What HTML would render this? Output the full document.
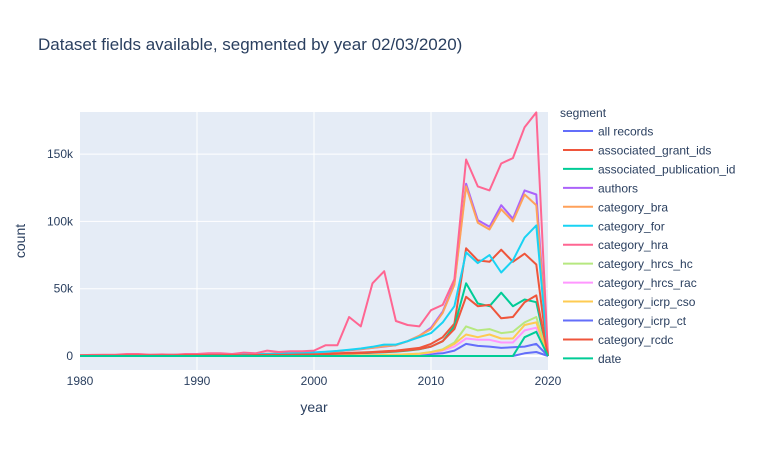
<!DOCTYPE html>
<html><head><meta charset="utf-8"><style>
body{margin:0;background:#fff;}
svg{display:block;font-family:"Liberation Sans",Arial,sans-serif;}
</style></head><body>
<svg id="chart" width="770" height="450" xmlns="http://www.w3.org/2000/svg">
<rect x="80" y="112" width="468" height="258" fill="#e5ecf6"/>
<g id="grid"></g><g id="lines"></g><g id="axes"></g><g id="legend"></g>
<text x="38" y="50" font-size="17" fill="#2a3f5f">Dataset fields available, segmented by year 02/03/2020)</text>
<text x="314" y="412" font-size="14" fill="#2a3f5f" text-anchor="middle">year</text>
<text x="25" y="241" font-size="14" fill="#2a3f5f" text-anchor="middle" transform="rotate(-90 25 241)">count</text>
<text x="560" y="117" font-size="12" fill="#2a3f5f">segment</text>
</svg>
<script>
const years = [1980,1981,1982,1983,1984,1985,1986,1987,1988,1989,1990,1991,1992,1993,1994,1995,1996,1997,1998,1999,2000,2001,2002,2003,2004,2005,2006,2007,2008,2009,2010,2011,2012,2013,2014,2015,2016,2017,2018,2019,2020];
const xTicks = [1980,1990,2000,2010,2020];
const yTicks = [0,50,100,150];
const yTickLabels = ["0","50k","100k","150k"];
const seriesNames = ["all records","associated_grant_ids","associated_publication_id","authors","category_bra","category_for","category_hra","category_hrcs_hc","category_hrcs_rac","category_icrp_cso","category_icrp_ct","category_rcdc","date"];
const seriesColors = ["#636efa","#EF553B","#00cc96","#ab63fa","#FFA15A","#19d3f3","#FF6692","#B6E880","#FF97FF","#FECB52","#636efa","#EF553B","#00cc96"];
// values in thousands
const allRecords = [0,0,0,0,0,0,0,0,0,0,0,0,0,0,0,0,0,0,0.1,0.1,0.2,0.2,0.3,0.4,0.5,0.6,0.7,0.8,1,1.2,1.5,2,4,9,7.5,7,6,6.5,7,9,0];
const grantIds = [0.3,0.3,0.4,0.4,0.5,0.5,0.5,0.5,0.5,0.6,0.6,0.7,0.7,0.6,0.8,0.8,1,1,1.2,1.3,1.5,1.8,2,2.3,2.6,3,3.5,4,5,6,9,14,24,80,71,70,79,70,76,68,0];
const publicationId = [0.2,0.2,0.3,0.3,0.3,0.3,0.3,0.3,0.3,0.4,0.4,0.4,0.4,0.4,0.5,0.5,0.6,0.6,0.7,0.8,1,1.2,1.4,1.7,2,2.4,2.8,3.3,4,5,7,11,22,54,39,37,47,37,42,40,0];
const authors = [0.5,0.5,0.6,0.7,0.8,0.8,0.8,0.8,0.9,1,1,1.1,1.2,1.1,1.3,1.4,1.6,1.8,2,2.2,2.5,3,3.5,4.2,5,6,7,8,11,15,21,33,54,128,101,96,112,102,123,120,0];
const bra = [0.5,0.5,0.6,0.7,0.8,0.8,0.8,0.8,0.9,1,1,1.1,1.2,1.1,1.3,1.4,1.6,1.8,2,2.2,2.5,3,3.6,4.4,5.2,6.2,7.2,8,11,15,20,32,53,126,99,94,109,100,120,112,0];
const categoryFor = [0.4,0.4,0.5,0.6,0.7,0.7,0.7,0.7,0.8,0.9,0.9,1,1.1,1,1.2,1.3,1.5,1.7,2,2.3,2.7,3.2,3.8,4.6,5.6,6.8,8.5,8.5,11,14,17,25,37,77,69,75,62,71,88,97,0];
const hra = [0.5,0.8,1,1,1.5,1.5,1,1.2,1,1.5,1.5,2,2,1.5,2.5,2,4,3,3.5,3.5,4,8,8,29,22,54,63,26,23,22,34,38,57,146,126,123,143,147,170,181,0];
const hrcsHc = [0,0,0,0,0,0,0,0,0,0,0,0,0,0,0,0,0,0,0.1,0.1,0.2,0.2,0.3,0.4,0.5,0.6,0.8,1,1.3,1.8,3,5,10,22,19,20,17,18,25,29,0];
const hrcsRac = [0,0,0,0,0,0,0,0,0,0,0,0,0,0,0,0,0,0,0.1,0.1,0.2,0.2,0.3,0.4,0.5,0.6,0.7,0.9,1.1,1.5,2.5,4,7,13,12,12,10,10,19,21,0];
const icrpCso = [0,0,0,0,0,0,0,0,0,0,0,0,0,0,0,0,0,0,0.1,0.1,0.2,0.2,0.3,0.4,0.5,0.6,0.8,1,1.3,1.7,2.8,4.5,9,16,14,16,13,13,23,25,0];
const icrpCt = [0,0,0,0,0,0,0,0,0,0,0,0,0,0,0,0,0,0,0,0,0,0,0,0,0,0,0,0,0,0,0,0,0,0,0,0,0,0,2,3,0];
const rcdc = [0.3,0.3,0.3,0.3,0.4,0.4,0.4,0.4,0.4,0.5,0.5,0.5,0.6,0.5,0.6,0.7,0.8,0.8,1,1.1,1.2,1.4,1.6,1.9,2.2,2.6,3,3.5,4.2,5.2,7,11,20,44,37,38,28,29,40,45,0];
const dateVals = [0,0,0,0,0,0,0,0,0,0,0,0,0,0,0,0,0,0,0,0,0,0,0,0,0,0,0,0,0,0,0,0,0,0,0,0,0,0,14,18,0];
const seriesValues = [allRecords,grantIds,publicationId,authors,bra,categoryFor,hra,hrcsHc,hrcsRac,icrpCso,icrpCt,rcdc,dateVals];

const NS="http://www.w3.org/2000/svg";
const X0=80,X1=548,Y0=356;
function xScale(yr){return X0+(yr-1980)*(X1-X0)/40;}
function yScale(v){return Y0-v*67.3/50;}
function mk(tag,attrs,parent){const e=document.createElementNS(NS,tag);for(const k in attrs)e.setAttribute(k,attrs[k]);parent.appendChild(e);return e;}
const grid=document.getElementById('grid'),axes=document.getElementById('axes'),lines=document.getElementById('lines'),legend=document.getElementById('legend');
xTicks.forEach(t=>{
  const x=xScale(t);
  if(t>1980&&t<2020){const g=mk('line',{x1:x,x2:x,y1:112,y2:370,stroke:'#fff','stroke-width':1},grid);
  
  }
  const l=mk('text',{x:x,y:385,'font-size':12,fill:'#2a3f5f','text-anchor':'middle'},axes);l.textContent=t;
  
  
});
yTicks.forEach((t,i)=>{
  const y=yScale(t);
  const g=mk('line',{x1:80,x2:548,y1:y,y2:y,stroke:'#fff','stroke-width':i===0?2:1},grid);
  
  
  const l=mk('text',{x:73,y:y+4,'font-size':12,fill:'#2a3f5f','text-anchor':'end'},axes);l.textContent=yTickLabels[i];
  
  
});
seriesValues.forEach((vals,si)=>{
  const pts=vals.map((v,i)=>xScale(years[i]).toFixed(1)+','+yScale(v).toFixed(1)).join(' ');
  const p=mk('polyline',{points:pts,fill:'none',stroke:seriesColors[si],'stroke-width':2,'stroke-linejoin':'round'},lines);
  
  
  const y=131+si*18.95;
  const g=mk('g',{},legend);
  
  
  mk('line',{x1:563,x2:593,y1:y,y2:y,stroke:seriesColors[si],'stroke-width':2},g);
  const t=mk('text',{x:598,y:y+4.5,'font-size':12,fill:'#2a3f5f'},g);t.textContent=seriesNames[si];
});
</script>
</body></html>
